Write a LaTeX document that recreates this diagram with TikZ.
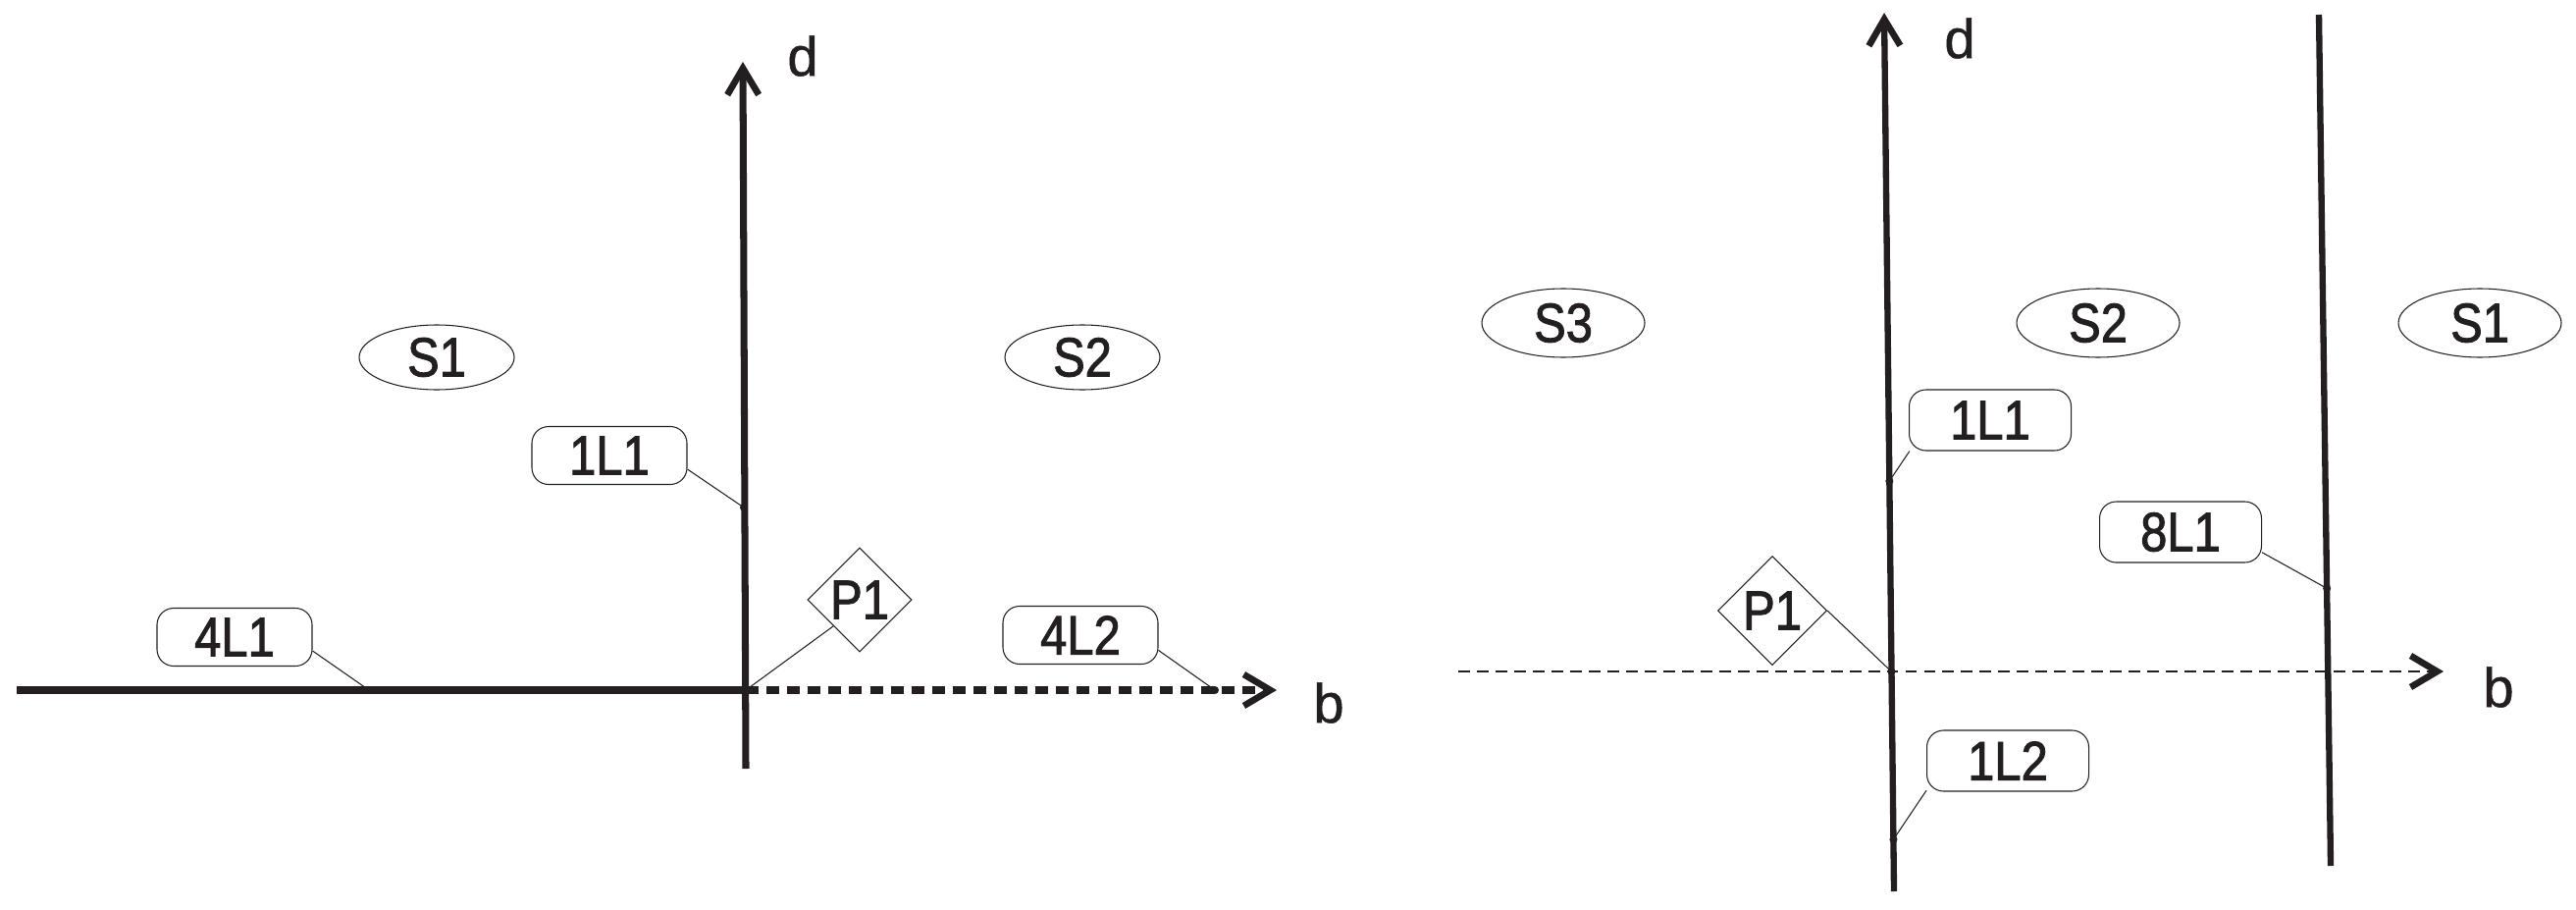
\documentclass[tikz,border=0pt]{standalone}
\usepackage{fontspec}
\setmainfont{Liberation Sans}[FakeBold=0.8]
\newfontfamily\tagfont{Liberation Sans}[FakeStretch=0.87,FakeBold=1.6]
\usetikzlibrary{arrows.meta,shapes.geometric}
\definecolor{ink}{RGB}{35,31,32}
\begin{document}
\begin{tikzpicture}[ink,font=\fontsize{16}{19}\selectfont,
    thickline/.style={line width=2pt},
    wall/.style={line width=1.8pt},
    barb/.style={-{Straight Barb[length=0.27cm,width=0.32cm,line width=1.9pt]}},
    tag/.style={draw,rounded corners=0.17cm,line width=0.3pt,minimum width=1.58cm,minimum height=0.59cm,inner sep=0pt,font=\fontsize{16}{19}\tagfont},
    zone/.style={draw,ellipse,line width=0.3pt,minimum width=1.58cm,minimum height=0.66cm,inner sep=0pt,font=\fontsize{16}{19}\tagfont},
    ptbox/.style={draw,diamond,line width=0.3pt,minimum size=1.06cm,inner sep=0pt,font=\fontsize{16}{19}\tagfont},
    spot/.style={circle,fill,inner sep=0pt,minimum size=0.08cm},
    leader/.style={line width=0.3pt}]
  \useasboundingbox (0,0) rectangle (26.25,9.26);
  \begin{scope}[shift={(7.60,2.23)}]
    \coordinate (O) at (0,0);
    \coordinate (W) at (-7.43,0);
    \coordinate (E) at (5.41,0);
    \coordinate (S) at (0,-0.80);
    \coordinate (N) at (-0.03,6.40);
    \draw[thickline] (W)--(O);
    \draw[thickline,dash pattern=on 3.7pt off 2.3pt,barb] (O)--(E);
    \draw[thickline,barb] (S)--(N);
    \node(d) at (0.58,6.46) {d};
    \node(b) at (5.94,-0.13) {b};
    \node[zone](S1) at (-3.15,3.39) {S1};
    \node[zone](S2) at (3.43,3.39) {S2};
    \node[tag](L11) at (-1.39,2.39) {1L1};
    \node[tag](L41) at (-5.21,0.54) {4L1};
    \node[tag](L42) at (3.41,0.56) {4L2};
    \node[ptbox](P1) at (1.16,0.92) {P1};
    \node[spot](a) at (-0.02,1.86) {};
    \node[spot](c) at (-3.84,0) {};
    \node[spot](e) at (4.78,0) {};
    \draw[leader] (L11.-10)--(a.center) (L41.-10)--(c.center) (L42.-11)--(e.center) (P1.south west)--(O);
  \end{scope}
  \begin{scope}[shift={(19.27,2.42)}]
    \coordinate (O) at (0,0);
    \coordinate (W) at (-4.41,0);
    \coordinate (E) at (5.63,0);
    \coordinate (A0) at (0.03,-2.24);
    \coordinate (A1) at (-0.07,6.71);
    \coordinate (B0) at (4.48,-1.98);
    \coordinate (B1) at (4.36,6.69);
    \draw[line width=0.4pt,dash pattern=on 3.4pt off 2pt,barb] (W)--(E);
    \draw[wall,barb] (A0)--node[pos=.059,spot](a){} node[pos=.25,spot](o){} node[pos=.467,spot](c){} (A1);
    \draw[wall] (B0)--node[pos=.326,spot](e){} (B1);
    \node(d) at (0.70,6.45) {d};
    \node(b) at (6.19,-0.16) {b};
    \node[zone,minimum width=1.66cm,minimum height=0.70cm](S3) at (-3.34,3.55) {S3};
    \node[zone,minimum width=1.66cm,minimum height=0.70cm](S2) at (2.11,3.55) {S2};
    \node[zone,minimum width=1.66cm,minimum height=0.70cm](S1) at (6.00,3.55) {S1};
    \node[tag,minimum width=1.65cm,minimum height=0.62cm](L11) at (1.01,2.56) {1L1};
    \node[tag,minimum width=1.65cm,minimum height=0.62cm](L81) at (2.95,1.42) {8L1};
    \node[tag,minimum width=1.65cm,minimum height=0.62cm](L12) at (1.19,-0.91) {1L2};
    \node[ptbox,minimum size=1.11cm](P1) at (-1.21,0.62) {P1};
    \draw[leader] (L11.201)--(c.center) (L81.-14)--(e.center) (L12.200)--(a.center) (P1.east)--(o.center);
  \end{scope}
\end{tikzpicture}
\end{document}
